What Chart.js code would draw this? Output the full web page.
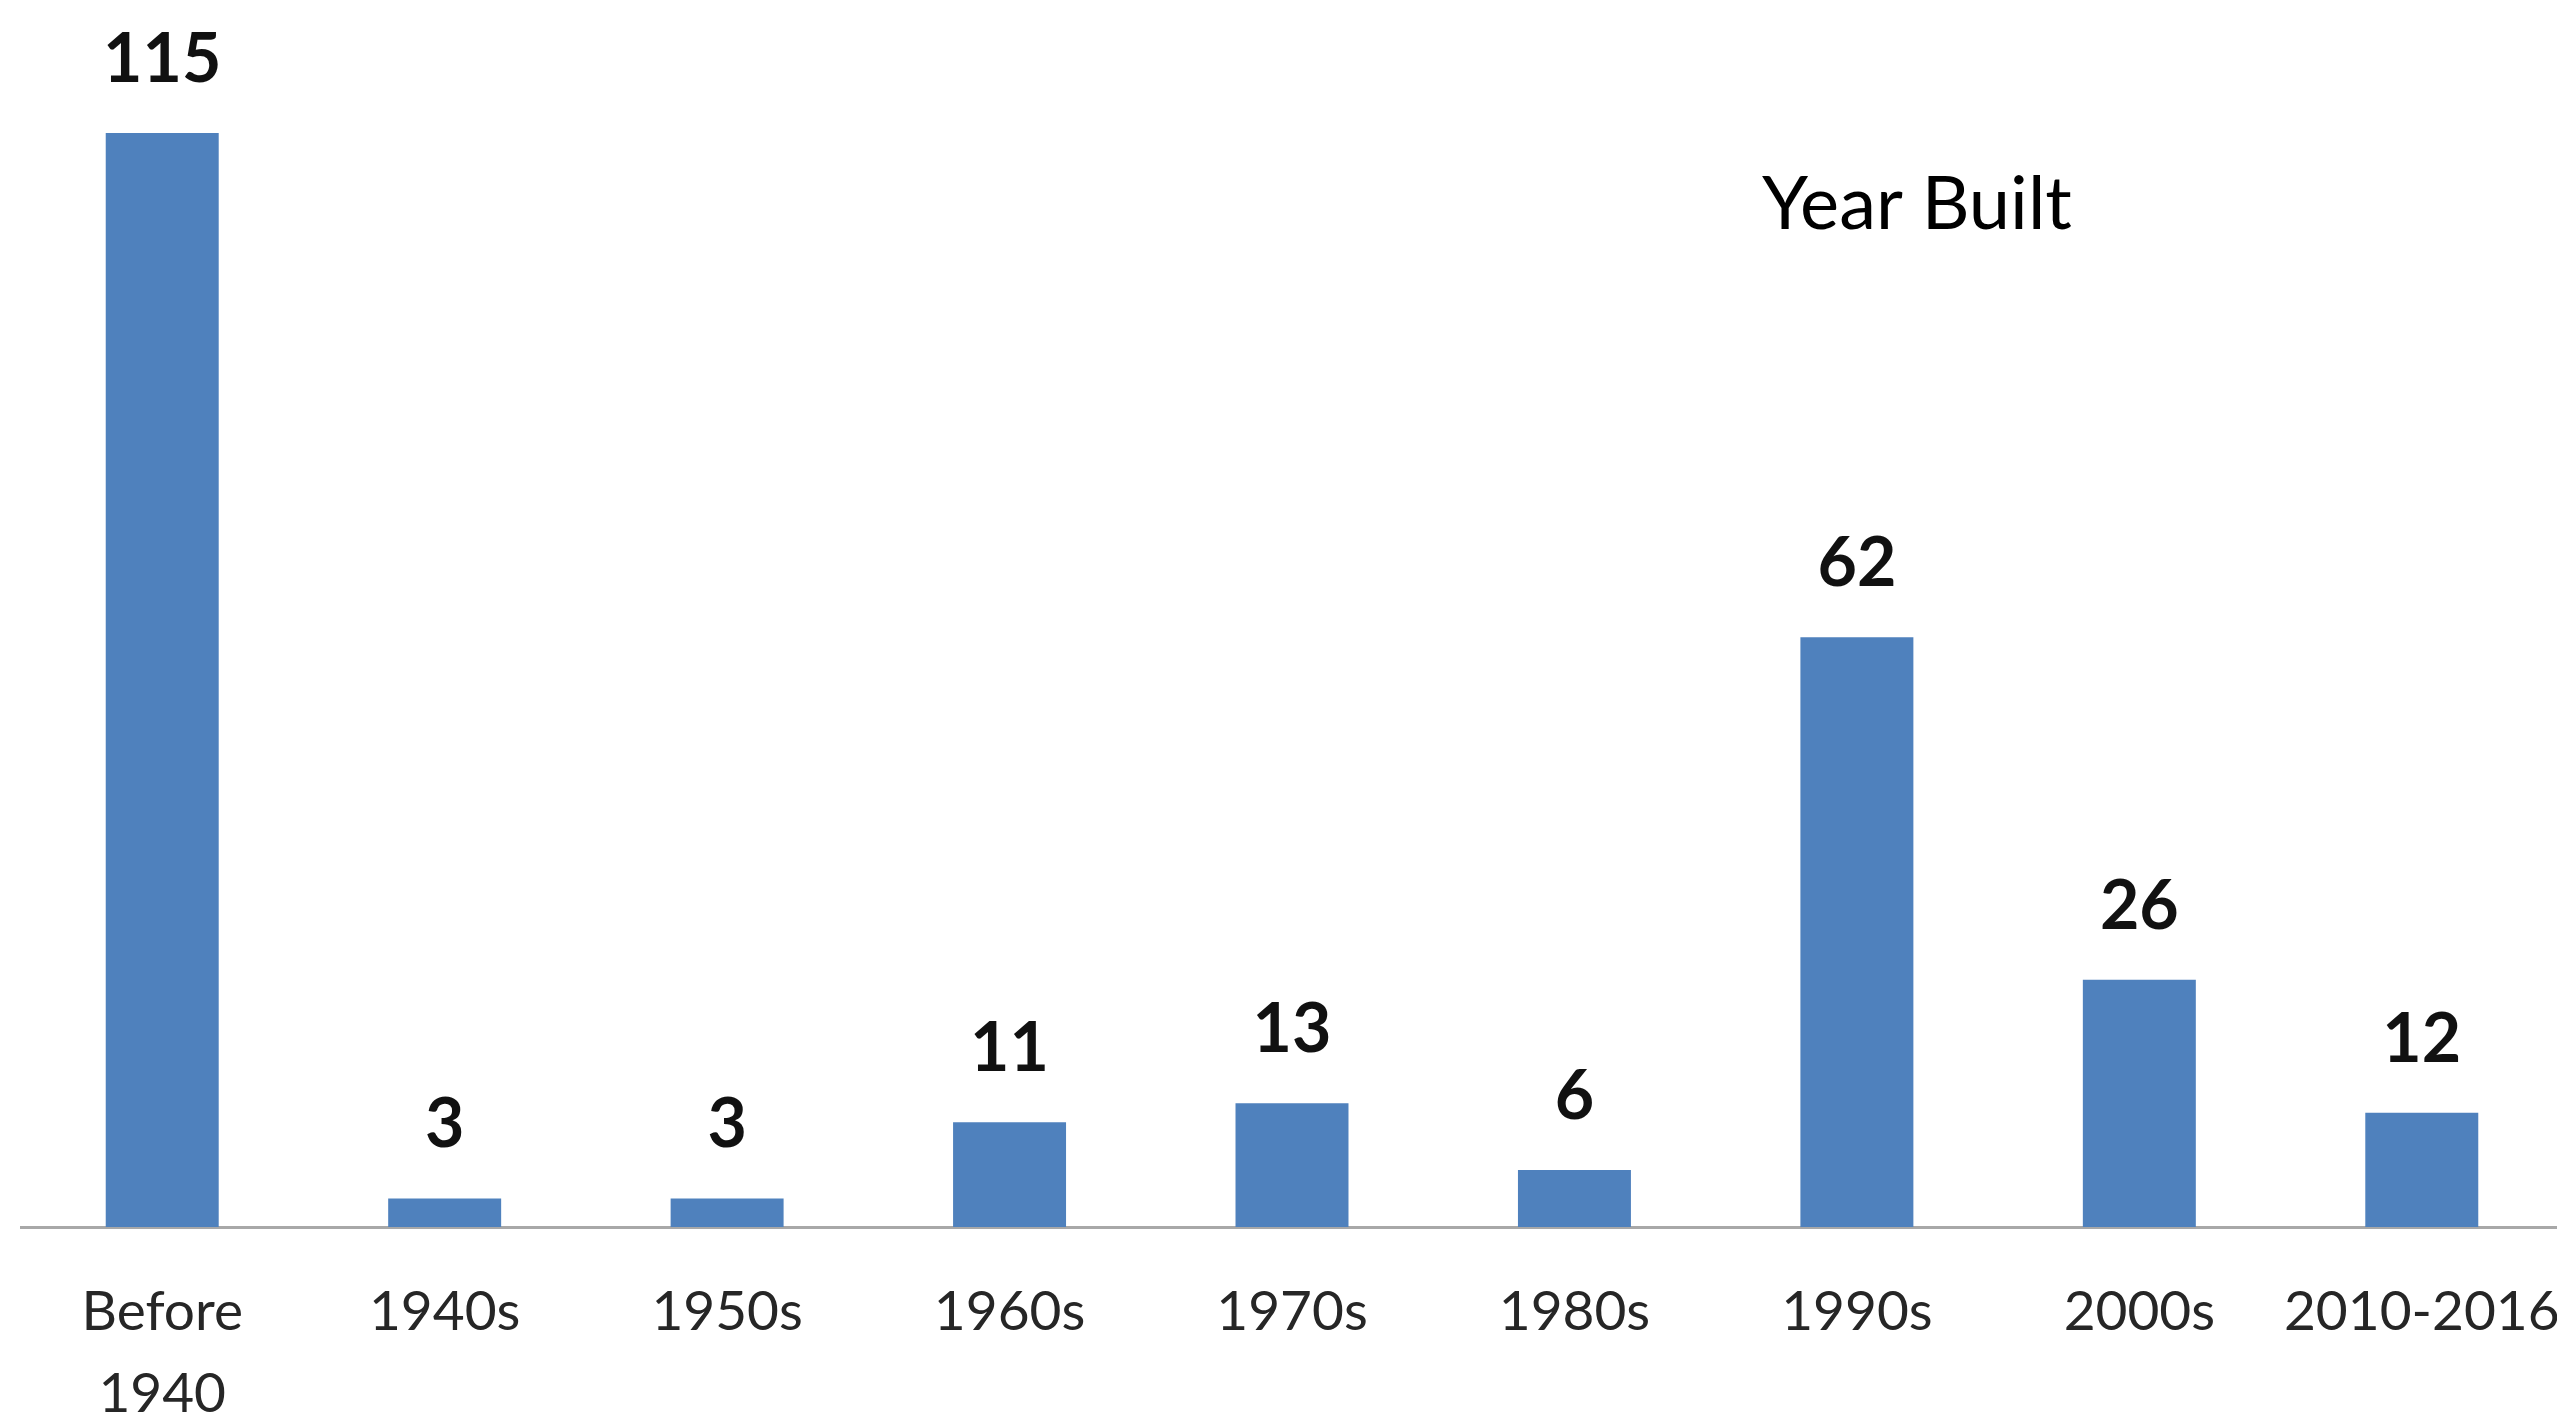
<!DOCTYPE html>
<html lang="en">
<head>
    <meta charset="UTF-8">
    <title>Year Built</title>
    <style>
        html, body {
            margin: 0;
            padding: 0;
            background: #ffffff;
            overflow: hidden;
        }
        #yearChart {
            display: block;
        }
    </style>
    <script src="https://cdn.jsdelivr.net/npm/chart.js"></script>
</head>
<body>
    <canvas id="yearChart" width="2563" height="1418"></canvas>

    <script>
        const categories = [['Before', '1940'], '1940s', '1950s', '1960s', '1970s', '1980s', '1990s', '2000s', '2010-2016'];
        const buildingCounts = [115, 3, 3, 11, 13, 6, 62, 26, 12];
        const chartTitle = 'Year Built';

        const barColor = '#4f81bd';
        const textFont = 'Lato, "Open Sans", sans-serif';

        // value labels above each bar
        const valueLabels = {
            id: 'valueLabels',
            afterDatasetsDraw(chart) {
                const ctx = chart.ctx;
                const meta = chart.getDatasetMeta(0);
                ctx.save();
                ctx.font = 'bold 68px ' + textFont;
                ctx.fillStyle = '#111111';
                ctx.textAlign = 'center';
                ctx.textBaseline = 'alphabetic';
                meta.data.forEach(function(bar, i) {
                    ctx.fillText(String(buildingCounts[i]), bar.x, bar.y - 51);
                });
                ctx.restore();
            }
        };

        // free floating title inside the plot
        const floatingTitle = {
            id: 'floatingTitle',
            afterDraw(chart) {
                const ctx = chart.ctx;
                ctx.save();
                ctx.font = '74px ' + textFont;
                ctx.fillStyle = '#000000';
                ctx.textAlign = 'left';
                ctx.textBaseline = 'middle';
                ctx.fillText(chartTitle, 1762, 205);
                ctx.restore();
            }
        };

        const ctx = document.getElementById('yearChart').getContext('2d');
        new Chart(ctx, {
            type: 'bar',
            data: {
                labels: categories,
                datasets: [{
                    data: buildingCounts,
                    backgroundColor: barColor,
                    borderWidth: 0,
                    barPercentage: 0.4,
                    categoryPercentage: 1.0
                }]
            },
            options: {
                responsive: false,
                animation: false,
                layout: {
                    padding: { left: 21, right: 0, top: 133, bottom: 0 }
                },
                plugins: {
                    legend: { display: false },
                    title: { display: false },
                    tooltip: { enabled: false }
                },
                scales: {
                    x: {
                        grid: { display: false, drawTicks: false },
                        border: { display: true, color: '#a8a8a8', width: 3 },
                        ticks: {
                            color: '#262626',
                            font: { family: textFont, size: 55, lineHeight: 1.48 },
                            padding: 45,
                            maxRotation: 0,
                            autoSkip: false
                        },
                        afterFit: function(scale) {
                            // fixed axis band, no side padding for the edge labels
                            scale.height = 191;
                            scale.paddingLeft = 0;
                            scale.paddingRight = 0;
                        }
                    },
                    y: {
                        display: false,
                        min: 0,
                        max: 115
                    }
                }
            },
            plugins: [valueLabels, floatingTitle]
        });
    </script>
</body>
</html>
